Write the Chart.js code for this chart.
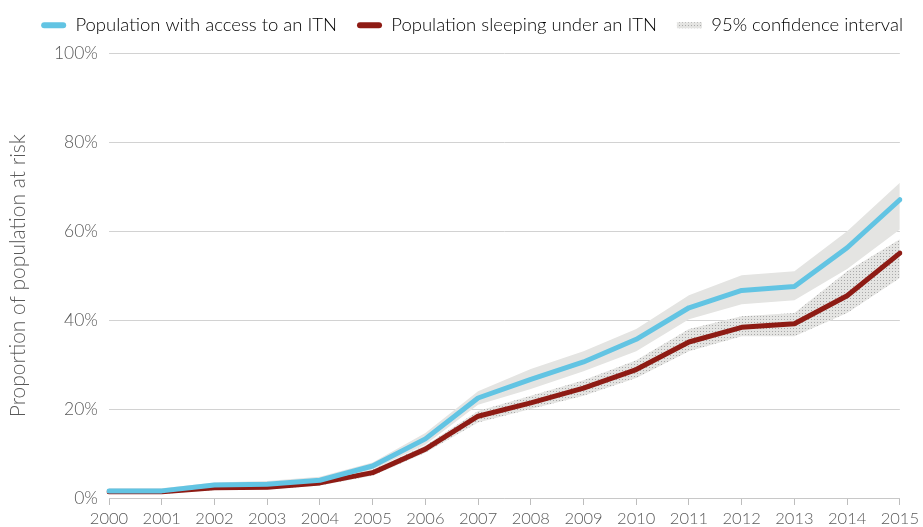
<!DOCTYPE html>
<html lang="en">
<head>
<meta charset="utf-8" />
<title>ITN access and use</title>
<script src="https://cdnjs.cloudflare.com/ajax/libs/Chart.js/4.4.0/chart.umd.js"></script>
<style>
    html, body { margin: 0; padding: 0; background: #fff; }
    #wrap { width: 923px; height: 527px; }
</style>
</head>
<body>
<div id="wrap"><canvas id="chart"></canvas></div>
<script>
    const years = ['2000','2001','2002','2003','2004','2005','2006','2007','2008','2009','2010','2011','2012','2013','2014','2015'];

    // population with access to an ITN (%)
    const access      = [1.6, 1.6, 2.9, 3.1, 4.0, 7.2, 13.3, 22.5, 26.7, 30.6, 35.7, 42.8, 46.7, 47.6, 56.3, 67.1];
    const accessUpper = [2.2, 2.2, 3.5, 3.8, 4.8, 8.0, 14.6, 24.0, 29.0, 33.0, 38.0, 45.6, 50.1, 51.0, 60.0, 70.9];
    const accessLower = [1.0, 1.0, 2.3, 2.5, 3.3, 6.4, 12.0, 21.0, 24.5, 28.5, 33.0, 40.2, 43.6, 44.5, 51.5, 60.4];

    // population sleeping under an ITN (%)
    const sleeping      = [1.4, 1.4, 2.3, 2.4, 3.4, 5.7, 11.0, 18.4, 21.4, 24.7, 28.9, 35.1, 38.4, 39.2, 45.5, 55.1];
    const sleepingUpper = [1.9, 1.9, 2.8, 3.0, 4.0, 6.4, 11.8, 19.6, 23.0, 26.5, 31.0, 38.0, 40.9, 41.6, 51.0, 58.2];
    const sleepingLower = [0.9, 0.9, 1.8, 1.9, 2.8, 5.0, 10.2, 17.0, 20.0, 23.0, 27.0, 33.0, 36.4, 36.4, 41.6, 49.5];

    const yTicks = [0, 20, 40, 60, 80, 100];

    const BLUE = '#62c4e3';
    const RED = '#8e1b14';
    const BAND = '#e4e4e2';
    const TEXT = '#595959';
    const FONT = 'Lato';

    // dotted grey fill for the sleeping-under-ITN interval
    function dotPattern() {
        const c = document.createElement('canvas');
        c.width = 3; c.height = 3;
        const g = c.getContext('2d');
        g.fillStyle = BAND;
        g.fillRect(0, 0, 3, 3);
        g.fillStyle = '#a9a9a9';
        g.fillRect(1, 1, 1, 1);
        return g.createPattern(c, 'repeat');
    }
    const dots = dotPattern();

    // leave some room between the legend and the plot
    const legendGap = {
        id: 'legendGap',
        beforeInit(chart) {
            const fit = chart.legend.fit;
            chart.legend.fit = function() {
                fit.bind(chart.legend)();
                this.height += 9;
            };
        }
    };

    const ctx = document.getElementById('chart').getContext('2d');
    new Chart(ctx, {
        type: 'line',
        plugins: [legendGap],
        data: {
            labels: years,
            datasets: [
                { label: 'Population with access to an ITN', data: access, borderColor: BLUE, backgroundColor: BLUE,
                  borderWidth: 5, pointRadius: 0, fill: false, borderCapStyle: 'round', borderJoinStyle: 'round' },
                { label: 'Population sleeping under an ITN', data: sleeping, borderColor: RED, backgroundColor: RED,
                  borderWidth: 5, pointRadius: 0, fill: false, borderCapStyle: 'round', borderJoinStyle: 'round' },
                { label: 'accessUpper', data: accessUpper, borderWidth: 0, pointRadius: 0, fill: '+1', backgroundColor: BAND },
                { label: 'accessLower', data: accessLower, borderWidth: 0, pointRadius: 0, fill: false },
                { label: 'sleepingUpper', data: sleepingUpper, borderWidth: 0, pointRadius: 0, fill: '+1', backgroundColor: dots },
                { label: 'sleepingLower', data: sleepingLower, borderWidth: 0, pointRadius: 0, fill: false }
            ]
        },
        options: {
            responsive: true,
            maintainAspectRatio: false,
            animation: false,
            layout: { padding: { left: 0, right: 0, top: -4, bottom: 0 } },
            plugins: {
                tooltip: { enabled: false },
                legend: {
                    position: 'top',
                    align: 'end',
                    labels: {
                        font: { family: FONT, size: 18.5, weight: 300 },
                        color: TEXT,
                        boxWidth: 25,
                        boxHeight: 6,
                        padding: 20,
                        useBorderRadius: true,
                        borderRadius: 3,
                        generateLabels: function(chart) {
                            const ds = chart.data.datasets;
                            return [
                                { text: ds[0].label, fillStyle: BLUE, strokeStyle: BLUE, lineWidth: 0, borderRadius: 3, datasetIndex: 0 },
                                { text: ds[1].label, fillStyle: RED, strokeStyle: RED, lineWidth: 0, borderRadius: 3, datasetIndex: 1 },
                                { text: '95% confidence interval', fillStyle: dots, strokeStyle: BAND, lineWidth: 0, borderRadius: 0, datasetIndex: 4 }
                            ];
                        }
                    }
                }
            },
            scales: {
                x: {
                    offset: false,
                    grid: { drawOnChartArea: false, drawTicks: true, tickLength: 7, color: '#bdbdbd' },
                    border: { display: true, color: '#c8c8c8' },
                    ticks: { color: TEXT, font: { family: FONT, size: 16.5, weight: 300 }, padding: 4, maxRotation: 0, autoSkip: false },
                    afterFit: function(s) { s.height = 29; }
                },
                y: {
                    min: 0,
                    max: 100,
                    afterBuildTicks: function(s) { s.ticks = yTicks.map(v => ({ value: v })); },
                    grid: { drawTicks: false, color: '#d2d2d2' },
                    border: { display: false },
                    ticks: { color: TEXT, font: { family: FONT, size: 17.5, weight: 300 }, padding: 11, callback: v => v + '%' },
                    title: { display: true, text: 'Proportion of population at risk', color: TEXT,
                             font: { family: FONT, size: 21, weight: 300 }, padding: { top: 6, bottom: 0 } },
                    afterFit: function(s) { s.width = 109; }
                }
            }
        }
    });
</script>
</body>
</html>
